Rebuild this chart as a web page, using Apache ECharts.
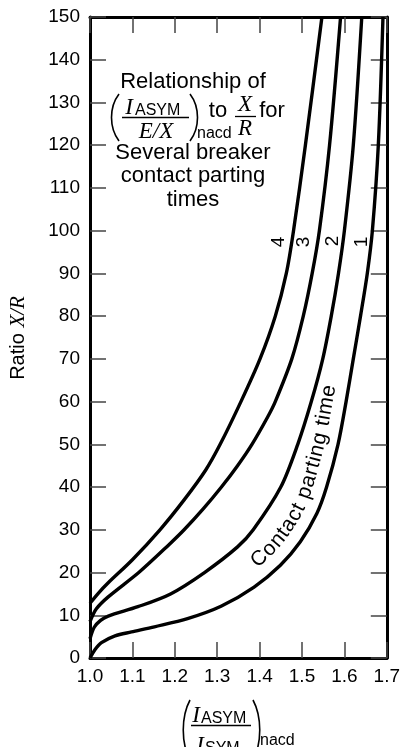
<!DOCTYPE html>
<html>
<head>
<meta charset="utf-8">
<style>
html,body{margin:0;padding:0;background:#fff;}
#chart{width:403px;height:747px;}
</style>
<script src="https://cdn.jsdelivr.net/npm/echarts@6/dist/echarts.min.js"></script>
</head>
<body>
<div id="chart"></div>
<script>
// Data: [I_ASYM/I_SYM, X/R]
var curve1 = [[1.0,0],[1.012,2],[1.027,3.6],[1.059,5.2],[1.098,6.1],[1.152,7.3],[1.23,9.2],[1.309,12.1],[1.387,16.6],[1.449,21.7],[1.496,27.2],[1.535,33.8],[1.558,40],[1.585,50],[1.604,60],[1.621,70],[1.638,80],[1.654,90],[1.666,100],[1.680,120],[1.691,150]];
var curve2 = [[1.0,4.5],[1.01,7.2],[1.025,8.8],[1.043,9.8],[1.113,12],[1.19,15],[1.27,20],[1.348,26],[1.385,30],[1.45,40],[1.49,50],[1.522,60],[1.549,70],[1.569,80],[1.586,90],[1.600,100],[1.621,120],[1.641,150]];
var curve3 = [[1.0,8.5],[1.015,11.5],[1.043,14.3],[1.115,20],[1.185,26.4],[1.222,30],[1.268,35],[1.31,40],[1.348,45],[1.382,50],[1.419,56.4],[1.437,60],[1.476,70],[1.503,80],[1.524,90],[1.541,100],[1.565,120],[1.591,150]];
var curve4 = [[1.0,12.8],[1.02,15.2],[1.043,17.6],[1.10,23],[1.165,30],[1.222,37],[1.273,44],[1.307,50],[1.356,60],[1.401,70],[1.437,80],[1.463,90],[1.48,100],[1.508,120],[1.547,150]];
var curveNames = ['1','2','3','4'];
var curveLabelText = 'Contact parting time';
var xMin = 1.0, xMax = 1.7, xStep = 0.1;
var yMin = 0, yMax = 150, yStep = 10;

var chart = echarts.init(document.getElementById('chart'), null, {renderer:'canvas'});
var SANS = '"Liberation Sans", Arial, Helvetica, sans-serif';
var SERIF = '"Liberation Serif", "Times New Roman", serif';
var tickStyle = {show:true, inside:true, length:16, lineStyle:{color:'#444', width:1.5}};
var axisLine = {show:true, onZero:false, lineStyle:{color:'#000', width:3}};

function lineSeries(d, name){
  return {type:'line', name:name, data:d, smooth:0.3, symbol:'none', clip:true,
    lineStyle:{color:'#000', width:3.4}, silent:true, animation:false};
}

function txt(text, x, y, size, opts){
  opts = opts || {};
  return {type:'text', x:x, y:y, rotation:opts.rot||0, silent:true,
    style:{text:text, fill:'#000', font:(opts.italic?'italic ':'')+size+'px '+(opts.serif?SERIF:SANS),
      align:opts.align||'center', verticalAlign:'middle', textAlign:opts.align||'center', textVerticalAlign:'middle'}};
}
function hline(x1,x2,y,w){ return {type:'line', silent:true, shape:{x1:x1,y1:y,x2:x2,y2:y}, style:{stroke:'#000', lineWidth:w||1.2}}; }
function paren(x, y1, y2, bulge){
  var h = y2-y1;
  return {type:'bezierCurve', silent:true, shape:{x1:x, y1:y1, x2:x, y2:y2, cpx1:x+bulge, cpy1:y1+h*0.28, cpx2:x+bulge, cpy2:y1+h*0.72},
    style:{stroke:'#000', lineWidth:1.6, fill:null}};
}

var graphics = [
  // title block
  txt('Relationship of', 193, 82, 22),
  paren(119, 94, 141, -10),
  paren(190, 94, 141, 10),
  txt('I', 129, 108, 23, {italic:true, serif:true}),
  txt('ASYM', 135, 111, 16, {align:'left'}),
  hline(122, 189, 117.5, 1.3),
  txt('E/X', 156, 132, 23, {italic:true, serif:true}),
  txt('nacd', 197, 134, 16, {align:'left'}),
  txt('to', 218, 111, 22),
  txt('X', 245, 105, 23, {italic:true, serif:true}),
  hline(235, 256, 116.5, 1.3),
  txt('R', 245, 129, 23, {italic:true, serif:true}),
  txt('for', 272, 111, 22),
  txt('Several breaker', 193, 153, 22),
  txt('contact parting', 193, 176, 22),
  txt('times', 193, 200, 22),
  // curve number labels
  txt('4', 279, 242, 19, {rot:Math.PI/2}),
  txt('3', 304, 242, 19, {rot:Math.PI/2}),
  txt('2', 333, 241, 19, {rot:Math.PI/2}),
  txt('1', 362, 242, 19, {rot:Math.PI/2}),
  // y axis title
  {type:'text', x:18, y:338, rotation:Math.PI/2, silent:true,
    style:{text:'{a|Ratio }{b|X/R}', align:'center', verticalAlign:'middle', textAlign:'center', textVerticalAlign:'middle',
      rich:{a:{font:'20px '+SANS, fill:'#000'}, b:{font:'italic 21px '+SERIF, fill:'#000'}}}},
  // x axis title
  paren(190, 700, 760, -9),
  paren(253, 700, 760, 9),
  txt('I', 196, 716, 23, {italic:true, serif:true}),
  txt('ASYM', 201, 719, 16, {align:'left'}),
  hline(191, 251, 725.5, 1.3),
  txt('I', 200, 746, 23, {italic:true, serif:true}),
  txt('SYM', 205, 749, 16, {align:'left'}),
  txt('nacd', 260, 741, 16, {align:'left'})
];

var option = {
  animation:false,
  backgroundColor:'#fff',
  grid:{left:90, right:12, top:17, bottom:89, containLabel:false},
  xAxis:[
    {type:'value', min:xMin, max:xMax, interval:xStep, position:'bottom',
      axisLine:axisLine, axisTick:tickStyle, splitLine:{show:false},
      axisLabel:{show:true, margin:9, color:'#000', fontSize:19, fontFamily:SANS, formatter:function(v){return v.toFixed(1);}}},
    {type:'value', min:xMin, max:xMax, interval:xStep, position:'top',
      axisLine:axisLine, axisTick:tickStyle, splitLine:{show:false}, axisLabel:{show:false}}
  ],
  yAxis:[
    {type:'value', min:yMin, max:yMax, interval:yStep, position:'left',
      axisLine:axisLine, axisTick:tickStyle, splitLine:{show:false},
      axisLabel:{show:true, margin:10, color:'#000', fontSize:19, fontFamily:SANS}},
    {type:'value', min:yMin, max:yMax, interval:yStep, position:'right',
      axisLine:axisLine, axisTick:tickStyle, splitLine:{show:false}, axisLabel:{show:false}}
  ],
  series:[lineSeries(curve1,curveNames[0]), lineSeries(curve2,curveNames[1]), lineSeries(curve3,curveNames[2]), lineSeries(curve4,curveNames[3])]
};
chart.setOption(option);

// "Contact parting time" written along curve 1 (offset to its upper-left side)
function textAlongCurve(data, label, startY, offset, fontPx, spacing){
  var P = data.map(function(p){ return chart.convertToPixel({gridIndex:0}, p); });
  var dense = [];
  for (var i=0;i<P.length-1;i++){
    var p0=P[Math.max(0,i-1)], p1=P[i], p2=P[i+1], p3=P[Math.min(P.length-1,i+2)];
    for (var k=0;k<10;k++){
      var t=k/10, t2=t*t, t3=t2*t;
      var f=function(a,b,c,d){ return 0.5*((2*b)+(-a+c)*t+(2*a-5*b+4*c-d)*t2+(-a+3*b-3*c+d)*t3); };
      dense.push([f(p0[0],p1[0],p2[0],p3[0]), f(p0[1],p1[1],p2[1],p3[1])]);
    }
  }
  dense.push(P[P.length-1]);
  var startPx = chart.convertToPixel({gridIndex:0}, [xMin, startY])[1];
  var off = [], ang = [];
  for (var j=0;j<dense.length;j++){
    var a=dense[Math.max(0,j-1)], b=dense[Math.min(dense.length-1,j+1)];
    var dx=b[0]-a[0], dy=b[1]-a[1], L=Math.hypot(dx,dy)||1;
    off.push([dense[j][0]+dy/L*offset, dense[j][1]-dx/L*offset]);
    ang.push(Math.atan2(-dy, dx));
  }
  var s=[0];
  for (var m=1;m<off.length;m++) s.push(s[m-1]+Math.hypot(off[m][0]-off[m-1][0], off[m][1]-off[m-1][1]));
  var j0=0;
  for (var q=0;q<dense.length;q++){ if (dense[q][1] <= startPx){ j0=q; break; } }
  var s0 = s[j0];
  var ctx=document.createElement('canvas').getContext('2d');
  var font = fontPx+'px '+SANS;
  ctx.font = font;
  var out=[], cum=0;
  for (var c=0;c<label.length;c++){
    var ch=label[c], w=ctx.measureText(ch).width;
    var target=s0+cum+w/2; cum+=w+spacing;
    var idx=1; while(idx<s.length-1 && s[idx]<target) idx++;
    var r=(target-s[idx-1])/((s[idx]-s[idx-1])||1);
    var x=off[idx-1][0]+(off[idx][0]-off[idx-1][0])*r;
    var y=off[idx-1][1]+(off[idx][1]-off[idx-1][1])*r;
    var an=ang[idx-1]+(ang[idx]-ang[idx-1])*r;
    if (ch!==' ') out.push({type:'text', x:x, y:y, rotation:an, silent:true,
      style:{text:ch, fill:'#000', font:font, align:'center', verticalAlign:'middle', textAlign:'center', textVerticalAlign:'middle'}});
  }
  return out;
}

chart.setOption({graphic: graphics.concat(textAlongCurve(curve1, curveLabelText, 18.5, 19, 21, 0.6))});
</script>
</body>
</html>
